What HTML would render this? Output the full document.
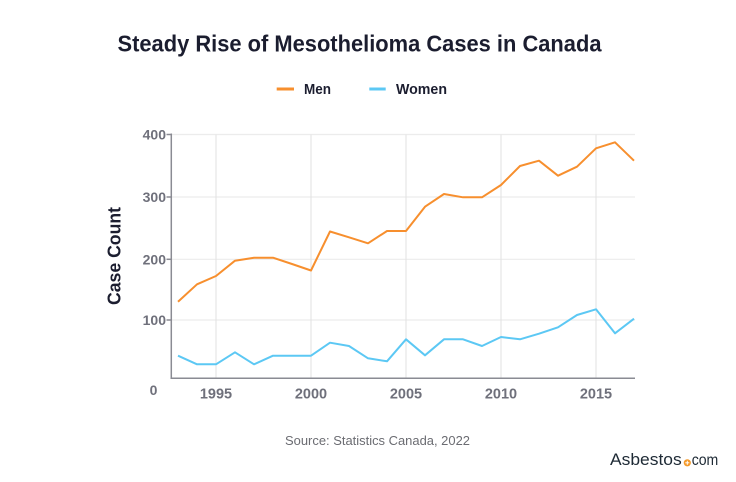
<!DOCTYPE html>
<html>
<head>
<meta charset="utf-8">
<style>
html,body{margin:0;padding:0;background:#fff;}
svg{display:block;}
text{font-family:"Liberation Sans",sans-serif;}
</style>
</head>
<body>
<svg width="736" height="482" viewBox="0 0 736 482" xmlns="http://www.w3.org/2000/svg">
<rect width="736" height="482" fill="#fff"/>
<!-- Title -->
<text x="117.5" y="51.7" font-size="23" font-weight="bold" fill="#1b1d2f" textLength="484" lengthAdjust="spacingAndGlyphs">Steady Rise of Mesothelioma Cases in Canada</text>
<!-- Legend -->
<rect x="276.7" y="87.5" width="17.3" height="3" fill="#f78f2e"/>
<text x="304" y="94" font-size="15" font-weight="bold" fill="#1b1d2f" textLength="27" lengthAdjust="spacingAndGlyphs">Men</text>
<rect x="369.3" y="87.5" width="16.4" height="3" fill="#5cc8f4"/>
<text x="396" y="94" font-size="15" font-weight="bold" fill="#1b1d2f" textLength="51" lengthAdjust="spacingAndGlyphs">Women</text>

<!-- Grid -->
<g stroke="#ececec" stroke-width="1.2">
<line x1="171" y1="134.5" x2="635" y2="134.5"/>
<line x1="171" y1="197" x2="635" y2="197"/>
<line x1="171" y1="259.3" x2="635" y2="259.3"/>
<line x1="171" y1="320" x2="635" y2="320"/>
</g>
<g stroke="#e2e2e2" stroke-width="1">
<line x1="216" y1="134.5" x2="216" y2="378"/>
<line x1="311" y1="134.5" x2="311" y2="378"/>
<line x1="406" y1="134.5" x2="406" y2="378"/>
<line x1="501" y1="134.5" x2="501" y2="378"/>
<line x1="596" y1="134.5" x2="596" y2="378"/>
</g>
<!-- Axes -->
<g stroke="#8a8b93" stroke-width="1.5">
<line x1="171.3" y1="133.5" x2="171.3" y2="378.5"/>
<line x1="170.5" y1="378.3" x2="635" y2="378.3"/>
<line x1="166.5" y1="134.5" x2="171.3" y2="134.5"/>
<line x1="166.5" y1="197" x2="171.3" y2="197"/>
<line x1="166.5" y1="259.3" x2="171.3" y2="259.3"/>
<line x1="166.5" y1="320" x2="171.3" y2="320"/>
</g>
<!-- Y labels -->
<g font-size="14" font-weight="bold" fill="#6f707b" text-anchor="end">
<text x="166" y="139.5">400</text>
<text x="166" y="202">300</text>
<text x="166" y="264.3">200</text>
<text x="166" y="325">100</text>
</g>
<text x="153.5" y="395" font-size="14" font-weight="bold" fill="#6f707b" text-anchor="middle">0</text>
<!-- X labels -->
<g font-size="14.5" font-weight="bold" fill="#6f707b" text-anchor="middle">
<text x="216" y="398.3">1995</text>
<text x="311" y="398.3">2000</text>
<text x="406" y="398.3">2005</text>
<text x="501" y="398.3">2010</text>
<text x="596" y="398.3">2015</text>
</g>
<!-- Y title -->
<text transform="translate(120.7,256) rotate(-90)" font-size="18.5" font-weight="bold" fill="#1b1d2f" text-anchor="middle" textLength="98" lengthAdjust="spacingAndGlyphs">Case Count</text>

<!-- Men -->
<polyline fill="none" stroke="#f78f2e" stroke-width="2" stroke-linejoin="round" points="178,301.7 197,284.3 216,276 235,260.7 254,257.7 273,257.7 292,264 311,270.5 330,231.5 349,237.3 368,243.3 387,231 406,231 425,206.7 444,194 463,197.3 482,197.3 501,185 520,166 539,160.7 558,175.7 577,166.7 596,148.3 615,142.3 634,160.7"/>
<!-- Women -->
<polyline fill="none" stroke="#5cc8f4" stroke-width="2" stroke-linejoin="round" points="178,355.7 197,364.3 216,364.3 235,352.3 254,364.3 273,355.7 292,355.7 311,355.7 330,342.7 349,346 368,358.3 387,361.3 406,339.3 425,355.3 444,339.3 463,339.3 482,346 501,337 520,339.3 539,333.7 558,327.3 577,315 596,309.3 615,333.3 634,318.7"/>

<!-- Source -->
<text x="285" y="445" font-size="13" fill="#6b6c72" textLength="185" lengthAdjust="spacingAndGlyphs">Source: Statistics Canada, 2022</text>

<!-- Logo -->
<text x="610" y="465" font-size="17" fill="#1e2a35" textLength="71.7" lengthAdjust="spacingAndGlyphs">Asbestos</text>
<circle cx="687.3" cy="462.8" r="3.6" fill="#f59a2a"/>
<line x1="685.3" y1="462.8" x2="689.3" y2="462.8" stroke="#fff" stroke-width="1"/>
<line x1="687.3" y1="460.8" x2="687.3" y2="464.8" stroke="#fff" stroke-width="1"/>
<text x="691.7" y="465" font-size="16" fill="#1e2a35" textLength="26.6" lengthAdjust="spacingAndGlyphs">com</text>
</svg>
</body>
</html>
